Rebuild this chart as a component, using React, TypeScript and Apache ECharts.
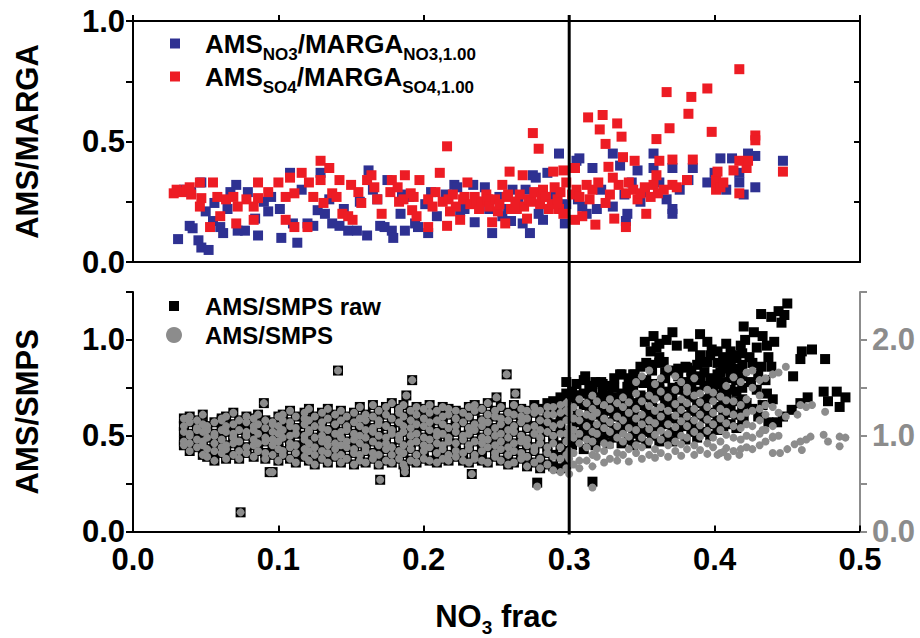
import React, { useEffect, useRef } from 'react';
import * as echarts from 'echarts';

const FONT = '"Liberation Sans", Arial, Helvetica, sans-serif';

const NAME_NO3 = 'AMS_NO3/MARGA_NO3,1.00';
const NAME_SO4 = 'AMS_SO4/MARGA_SO4,1.00';
const NAME_RAW = 'AMS/SMPS raw';
const NAME_CORR = 'AMS/SMPS';

const xTicks = [0.0, 0.1, 0.2, 0.3, 0.4, 0.5];
const dividerX = 0.3;

// Top panel: AMS/MARGA ratios vs NO3 fraction
const topNO3: number[][] = [
  [0.031,0.095],[0.035,0.30],[0.039,0.15],[0.040,0.29],[0.041,0.14],[0.045,0.09],[0.047,0.06],[0.047,0.33],[0.050,0.21],[0.052,0.05],
  [0.055,0.17],[0.056,0.245],[0.060,0.145],[0.062,0.12],[0.065,0.22],[0.067,0.29],[0.071,0.32],[0.072,0.13],[0.077,0.13],[0.079,0.29],
  [0.084,0.18],[0.086,0.11],[0.090,0.25],[0.093,0.21],[0.095,0.27],[0.101,0.22],[0.102,0.10],[0.108,0.37],[0.110,0.16],[0.113,0.08],
  [0.116,0.30],[0.120,0.16],[0.124,0.15],[0.127,0.215],[0.129,0.37],[0.132,0.20],[0.135,0.26],[0.137,0.16],[0.142,0.15],[0.145,0.22],
  [0.148,0.13],[0.154,0.13],[0.156,0.25],[0.161,0.11],[0.162,0.38],[0.165,0.30],[0.168,0.26],[0.170,0.15],[0.173,0.145],[0.175,0.34],
  [0.178,0.13],[0.179,0.10],[0.184,0.20],[0.185,0.28],[0.187,0.13],[0.190,0.27],[0.194,0.16],[0.196,0.145],[0.201,0.24],[0.203,0.12],
  [0.205,0.29],[0.209,0.19],[0.215,0.28],[0.221,0.32],[0.223,0.31],[0.225,0.21],[0.228,0.22],[0.234,0.32],[0.235,0.165],[0.238,0.25],
  [0.242,0.31],[0.245,0.22],[0.247,0.12],[0.252,0.27],[0.254,0.19],[0.258,0.22],[0.260,0.17],[0.261,0.30],[0.265,0.25],[0.268,0.16],
  [0.270,0.30],[0.273,0.12],[0.275,0.36],[0.277,0.35],[0.279,0.20],[0.282,0.175],[0.285,0.37],[0.288,0.27],[0.293,0.45],[0.297,0.16],
  [0.298,0.24],[0.305,0.42],[0.306,0.26],[0.307,0.43],[0.309,0.23],[0.312,0.20],[0.316,0.39],[0.319,0.22],[0.322,0.30],[0.330,0.45],
  [0.330,0.23],[0.335,0.40],[0.338,0.28],[0.339,0.17],[0.340,0.20],[0.343,0.33],[0.347,0.38],[0.349,0.25],[0.352,0.29],[0.358,0.45],
  [0.358,0.39],[0.362,0.33],[0.367,0.26],[0.371,0.39],[0.371,0.22],[0.371,0.20],[0.376,0.30],[0.382,0.34],[0.385,0.39],[0.395,0.33],
  [0.400,0.37],[0.404,0.43],[0.408,0.30],[0.412,0.43],[0.417,0.37],[0.417,0.33],[0.420,0.28],[0.423,0.45],[0.428,0.44],[0.428,0.31],
  [0.447,0.42]
];

const topSO4: number[][] = [
  [0.028,0.285],[0.030,0.30],[0.033,0.29],[0.037,0.30],[0.039,0.31],[0.040,0.28],[0.046,0.33],[0.047,0.265],[0.046,0.23],[0.053,0.145],
  [0.055,0.33],[0.058,0.27],[0.060,0.19],[0.064,0.26],[0.069,0.27],[0.072,0.23],[0.071,0.16],[0.078,0.26],[0.083,0.175],[0.083,0.23],
  [0.086,0.265],[0.086,0.33],[0.093,0.29],[0.100,0.33],[0.105,0.27],[0.105,0.175],[0.108,0.35],[0.111,0.285],[0.111,0.145],[0.116,0.37],
  [0.120,0.145],[0.121,0.33],[0.124,0.27],[0.129,0.42],[0.129,0.34],[0.131,0.245],[0.135,0.39],[0.137,0.285],[0.140,0.27],[0.142,0.34],
  [0.144,0.20],[0.148,0.19],[0.151,0.175],[0.150,0.32],[0.155,0.29],[0.157,0.245],[0.161,0.34],[0.164,0.36],[0.166,0.31],[0.168,0.26],
  [0.171,0.20],[0.177,0.29],[0.178,0.34],[0.182,0.31],[0.183,0.25],[0.186,0.26],[0.187,0.36],[0.191,0.285],[0.192,0.215],[0.193,0.27],
  [0.195,0.19],[0.197,0.34],[0.203,0.26],[0.203,0.145],[0.206,0.23],[0.208,0.29],[0.211,0.37],[0.213,0.25],[0.216,0.48],[0.216,0.15],
  [0.217,0.26],[0.218,0.21],[0.220,0.28],[0.222,0.23],[0.225,0.175],[0.227,0.26],[0.228,0.27],[0.230,0.33],[0.232,0.24],[0.235,0.27],
  [0.236,0.25],[0.238,0.22],[0.240,0.25],[0.243,0.28],[0.244,0.26],[0.245,0.23],[0.247,0.165],[0.249,0.26],[0.251,0.21],[0.252,0.24],
  [0.254,0.32],[0.256,0.16],[0.257,0.27],[0.258,0.28],[0.259,0.375],[0.260,0.22],[0.263,0.25],[0.264,0.22],[0.266,0.28],[0.268,0.36],
  [0.269,0.23],[0.271,0.18],[0.272,0.26],[0.274,0.25],[0.275,0.535],[0.276,0.29],[0.279,0.47],[0.280,0.24],[0.281,0.27],[0.282,0.30],
  [0.284,0.27],[0.286,0.22],[0.288,0.24],[0.289,0.375],[0.290,0.31],[0.292,0.26],[0.293,0.22],[0.294,0.29],[0.296,0.38],[0.296,0.20],
  [0.298,0.33],[0.302,0.28],[0.304,0.39],[0.304,0.175],[0.305,0.30],[0.307,0.27],[0.309,0.19],[0.312,0.32],[0.313,0.60],[0.314,0.26],
  [0.316,0.30],[0.318,0.155],[0.320,0.33],[0.321,0.55],[0.323,0.61],[0.325,0.49],[0.325,0.245],[0.327,0.395],[0.328,0.28],[0.330,0.35],
  [0.331,0.18],[0.333,0.575],[0.334,0.32],[0.336,0.52],[0.337,0.435],[0.339,0.285],[0.339,0.145],[0.341,0.33],[0.344,0.30],[0.345,0.42],
  [0.347,0.26],[0.349,0.285],[0.352,0.31],[0.353,0.20],[0.356,0.27],[0.358,0.32],[0.360,0.51],[0.360,0.36],[0.361,0.285],[0.362,0.42],
  [0.365,0.30],[0.367,0.705],[0.369,0.555],[0.371,0.425],[0.371,0.32],[0.374,0.31],[0.381,0.34],[0.382,0.615],[0.384,0.685],[0.385,0.425],
  [0.395,0.72],[0.398,0.54],[0.401,0.34],[0.401,0.30],[0.402,0.375],[0.404,0.31],[0.406,0.33],[0.413,0.38],[0.417,0.80],[0.417,0.42],
  [0.417,0.285],[0.422,0.39],[0.423,0.42],[0.428,0.525],[0.428,0.505],[0.447,0.375]
];

// Bottom panel, dense band (x < 0.3): NO3 frac of each column of points
const bandX = [0.035,0.039,0.044,0.048,0.051,0.056,0.061,0.064,0.069,0.073,0.078,0.083,0.086,0.091,0.096,0.100,0.103,0.108,0.112,0.118,
  0.121,0.125,0.130,0.134,0.139,0.143,0.147,0.152,0.156,0.160,0.165,0.169,0.174,0.178,0.183,0.186,0.191,0.195,0.200,0.204,
  0.209,0.213,0.217,0.222,0.227,0.231,0.235,0.240,0.244,0.249,0.253,0.258,0.262,0.267,0.271,0.276,0.280,0.285,0.289,0.294,0.298];

// AMS/SMPS raw (left axis) in the band
const bandRaw: number[][] = [
  [0.45,0.47,0.52,0.55,0.59],[0.42,0.46,0.50,0.51,0.57,0.60],[0.44,0.48,0.53,0.54,0.58],[0.40,0.45,0.47,0.52,0.56,0.61],
  [0.39,0.43,0.49,0.53,0.55],[0.37,0.42,0.46,0.50,0.51,0.57],[0.41,0.44,0.48,0.53,0.58,0.59],[0.38,0.43,0.45,0.52,0.55,0.60],
  [0.40,0.46,0.49,0.51,0.56,0.62],[0.38,0.42,0.47,0.53,0.58],[0.41,0.44,0.50,0.52,0.57,0.60],[0.39,0.45,0.48,0.53,0.55,0.59],
  [0.42,0.46,0.51,0.56,0.61],[0.38,0.41,0.47,0.49,0.54,0.58],[0.40,0.45,0.48,0.52,0.56,0.57],[0.37,0.43,0.47,0.51,0.55,0.60],
  [0.40,0.42,0.49,0.53,0.58,0.61],[0.38,0.44,0.46,0.50,0.55,0.57,0.63],[0.36,0.41,0.45,0.51,0.54,0.60],[0.39,0.43,0.48,0.50,0.56,0.59,0.62],
  [0.37,0.42,0.46,0.52,0.53,0.58,0.64],[0.35,0.40,0.44,0.49,0.55,0.60],[0.38,0.42,0.47,0.50,0.54,0.57,0.62],[0.36,0.41,0.45,0.48,0.53,0.59,0.64],
  [0.39,0.43,0.46,0.51,0.56,0.61],[0.36,0.40,0.45,0.49,0.52,0.58,0.63],[0.38,0.44,0.47,0.53,0.55,0.60],[0.35,0.41,0.43,0.48,0.51,0.57,0.62],
  [0.37,0.40,0.46,0.50,0.55,0.59,0.65],[0.36,0.42,0.44,0.49,0.53,0.58,0.61],[0.38,0.41,0.47,0.52,0.54,0.60,0.66],[0.35,0.40,0.45,0.50,0.56,0.58,0.63],
  [0.37,0.43,0.46,0.49,0.55,0.61,0.65],[0.36,0.40,0.44,0.51,0.53,0.59,0.67],[0.38,0.42,0.48,0.50,0.57,0.62,0.64],[0.35,0.41,0.45,0.52,0.55,0.60,0.66],
  [0.37,0.43,0.46,0.50,0.54,0.58,0.63],[0.36,0.40,0.47,0.51,0.56,0.61,0.65],[0.38,0.42,0.45,0.49,0.55,0.59,0.64],[0.37,0.44,0.48,0.53,0.57,0.62,0.66],
  [0.36,0.41,0.46,0.50,0.52,0.58,0.63],[0.38,0.43,0.45,0.51,0.56,0.60,0.65],[0.37,0.40,0.47,0.49,0.54,0.61,0.64],[0.39,0.42,0.46,0.52,0.55,0.59,0.63],
  [0.37,0.41,0.48,0.50,0.57,0.62],[0.36,0.43,0.45,0.51,0.54,0.60,0.65],[0.38,0.40,0.47,0.53,0.56,0.63,0.66],[0.37,0.42,0.46,0.49,0.55,0.58,0.64],
  [0.36,0.44,0.48,0.52,0.57,0.61,0.67],[0.39,0.41,0.45,0.50,0.54,0.60,0.63],[0.37,0.43,0.47,0.51,0.56,0.59,0.65],[0.35,0.40,0.44,0.49,0.53,0.58,0.62],
  [0.36,0.42,0.46,0.52,0.55,0.61,0.66],[0.38,0.41,0.47,0.50,0.57,0.60,0.64],[0.34,0.39,0.45,0.48,0.54,0.59,0.63],[0.36,0.42,0.44,0.51,0.55,0.62,0.66],
  [0.33,0.38,0.46,0.49,0.53,0.58,0.64],[0.35,0.41,0.44,0.52,0.57,0.61,0.67],[0.34,0.40,0.47,0.50,0.56,0.63,0.68],[0.33,0.39,0.45,0.53,0.58,0.64,0.70],
  [0.35,0.42,0.48,0.51,0.59,0.66,0.72]
];

// AMS/SMPS (right axis) in the band
const bandCorr: number[][] = [
  [0.90,0.94,1.04,1.10,1.18],[0.84,0.92,1.00,1.02,1.14,1.20],[0.88,0.96,1.06,1.08,1.16],[0.80,0.90,0.94,1.04,1.12,1.22],
  [0.78,0.86,0.98,1.06,1.10],[0.74,0.84,0.92,1.00,1.02,1.14],[0.82,0.88,0.96,1.06,1.16,1.18],[0.76,0.86,0.90,1.04,1.10,1.20],
  [0.80,0.92,0.98,1.02,1.12,1.24],[0.76,0.84,0.94,1.06,1.16],[0.82,0.88,1.00,1.04,1.14,1.20],[0.78,0.90,0.96,1.06,1.10,1.18],
  [0.84,0.92,1.02,1.12,1.22],[0.76,0.82,0.94,0.98,1.08,1.16],[0.80,0.90,0.96,1.04,1.12,1.14],[0.74,0.86,0.94,1.02,1.10,1.20],
  [0.80,0.84,0.98,1.06,1.16,1.22],[0.76,0.88,0.92,1.00,1.10,1.14,1.26],[0.72,0.82,0.90,1.02,1.08,1.20],[0.78,0.86,0.96,1.00,1.12,1.18,1.24],
  [0.74,0.84,0.92,1.04,1.06,1.16,1.28],[0.70,0.80,0.88,0.98,1.10,1.20],[0.76,0.84,0.94,1.00,1.08,1.14,1.24],[0.72,0.82,0.90,0.96,1.06,1.18,1.28],
  [0.78,0.86,0.92,1.02,1.12,1.22],[0.72,0.80,0.90,0.98,1.04,1.16,1.26],[0.76,0.88,0.94,1.06,1.10,1.20],[0.70,0.82,0.86,0.96,1.02,1.14,1.24],
  [0.74,0.80,0.92,1.00,1.10,1.18,1.30],[0.72,0.84,0.88,0.98,1.06,1.16,1.22],[0.76,0.82,0.94,1.04,1.08,1.20,1.32],[0.70,0.80,0.90,1.00,1.12,1.16,1.26],
  [0.74,0.86,0.92,0.98,1.10,1.22,1.30],[0.72,0.80,0.88,1.02,1.06,1.18,1.34],[0.76,0.84,0.96,1.00,1.14,1.24,1.28],[0.70,0.82,0.90,1.04,1.10,1.20,1.32],
  [0.74,0.86,0.92,1.00,1.08,1.16,1.26],[0.72,0.80,0.94,1.02,1.12,1.22,1.30],[0.76,0.84,0.90,0.98,1.10,1.18,1.28],[0.74,0.88,0.96,1.06,1.14,1.24,1.32],
  [0.72,0.82,0.92,1.00,1.04,1.16,1.26],[0.76,0.86,0.90,1.02,1.12,1.20,1.30],[0.74,0.80,0.94,0.98,1.08,1.22,1.28],[0.78,0.84,0.92,1.04,1.10,1.18,1.26],
  [0.74,0.82,0.96,1.00,1.14,1.24],[0.72,0.86,0.90,1.02,1.08,1.20,1.30],[0.76,0.80,0.94,1.06,1.12,1.26,1.32],[0.74,0.84,0.92,0.98,1.10,1.16,1.28],
  [0.72,0.88,0.96,1.04,1.14,1.22,1.34],[0.78,0.82,0.90,1.00,1.08,1.20,1.26],[0.74,0.86,0.94,1.02,1.12,1.18,1.30],[0.70,0.80,0.88,0.98,1.06,1.16,1.24],
  [0.72,0.84,0.92,1.04,1.10,1.22,1.32],[0.76,0.82,0.94,1.00,1.14,1.20,1.28],[0.68,0.78,0.90,0.96,1.08,1.18,1.26],[0.72,0.84,0.88,1.02,1.10,1.24,1.30],
  [0.66,0.76,0.92,0.98,1.06,1.16,1.26],[0.70,0.82,0.88,1.04,1.14,1.22,1.30],[0.64,0.78,0.92,1.00,1.10,1.22,1.30],[0.62,0.76,0.88,1.02,1.12,1.24,1.32],
  [0.66,0.80,0.94,1.02,1.16,1.26,1.34]
];

// High NO3 frac (x > 0.3), raw: columns of the lower dense cloud
const rawHiX = [0.302,0.305,0.310,0.314,0.318,0.323,0.327,0.331,0.336,0.341,0.344,0.349,0.353,0.357,0.362,0.366,0.371,0.375,
  0.380,0.384,0.388,0.393,0.397,0.402,0.406,0.411,0.415,0.419];
const rawHiCols: number[][] = [
  [0.45,0.50,0.53,0.60,0.64,0.70,0.73],[0.48,0.51,0.57,0.61,0.68,0.71,0.77],[0.43,0.50,0.55,0.58,0.66,0.72,0.79],
  [0.47,0.52,0.56,0.63,0.67,0.74,0.76],[0.45,0.49,0.55,0.61,0.64,0.70,0.78],[0.48,0.53,0.58,0.62,0.69,0.73,0.77],
  [0.46,0.51,0.57,0.63,0.66,0.71,0.76],[0.49,0.54,0.60,0.64,0.70,0.75,0.80],[0.46,0.52,0.56,0.62,0.68,0.72,0.82],
  [0.48,0.55,0.59,0.65,0.71,0.77,0.80],[0.45,0.51,0.57,0.61,0.67,0.74,0.82],[0.49,0.53,0.60,0.66,0.71,0.78,0.86],
  [0.46,0.52,0.58,0.63,0.70,0.79,0.88],[0.50,0.55,0.61,0.68,0.73,0.77,0.84],[0.47,0.54,0.59,0.64,0.71,0.76,0.88],
  [0.49,0.56,0.60,0.67,0.73,0.80,0.83],[0.47,0.52,0.59,0.65,0.70,0.75,0.84],[0.51,0.56,0.62,0.67,0.74,0.81,0.85],
  [0.48,0.55,0.60,0.66,0.72,0.78,0.86],[0.52,0.57,0.63,0.70,0.75,0.80,0.84],[0.49,0.54,0.61,0.67,0.73,0.79,0.87],
  [0.52,0.59,0.64,0.69,0.76,0.83,0.88],[0.50,0.56,0.62,0.69,0.74,0.80,0.92],[0.53,0.58,0.65,0.71,0.77,0.82,0.88],
  [0.55,0.60,0.66,0.73,0.78,0.85,0.90],[0.56,0.62,0.67,0.74,0.80,0.86,0.90],[0.54,0.61,0.68,0.73,0.79,0.85,0.92],
  [0.57,0.63,0.69,0.75,0.81,0.87,0.93]
];

// Raw: outliers, upper cluster, and right-hand tail
const rawExtra: number[][] = [
  [0.074,0.10],[0.090,0.67],[0.141,0.84],[0.192,0.79],[0.188,0.71],[0.170,0.27],[0.094,0.31],[0.096,0.31],[0.187,0.31],[0.187,0.33],
  [0.257,0.82],[0.263,0.72],[0.250,0.70],[0.233,0.30],[0.278,0.255],[0.298,0.78],[0.316,0.26],
  [0.311,0.81],[0.322,0.78],[0.335,0.82],[0.345,0.82],[0.340,0.755],[0.330,0.755],[0.316,0.74],[0.305,0.71],[0.351,0.775],
  [0.362,0.74],[0.376,0.755],[0.390,0.81],[0.399,0.755],[0.408,0.70],
  [0.352,0.99],[0.358,1.02],[0.362,0.98],[0.371,1.04],[0.367,1.00],[0.356,0.94],[0.362,0.91],[0.356,0.87],[0.365,0.885],[0.360,0.96],
  [0.374,0.97],[0.382,0.98],[0.385,0.965],[0.390,1.03],[0.395,0.99],[0.402,0.94],[0.395,0.885],[0.406,0.91],[0.404,0.83],[0.381,0.855],
  [0.374,0.83],[0.390,0.92],[0.398,0.95],[0.408,0.98],[0.411,0.94],[0.414,0.905],[0.406,0.88],[0.411,0.84],[0.417,0.84],[0.415,0.79],
  [0.420,1.07],[0.427,1.04],[0.433,1.02],[0.429,0.96],[0.424,0.91],[0.437,0.91],[0.439,0.86],[0.432,1.135],[0.439,1.12],[0.446,1.09],
  [0.448,1.13],[0.450,1.19],[0.444,1.15],[0.421,1.00],[0.418,0.97],[0.436,0.97],[0.441,0.99],[0.426,0.88],[0.432,0.86],[0.460,0.94],
  [0.467,0.95],[0.459,0.90],[0.476,0.90],[0.454,0.81],
  [0.475,0.73],[0.478,0.68],[0.486,0.65],[0.490,0.70],[0.484,0.73],[0.464,0.70],[0.459,0.67],[0.453,0.635],[0.447,0.60],[0.443,0.57],
  [0.437,0.57],[0.440,0.69],[0.436,0.72],[0.429,0.74],[0.422,0.67],[0.420,0.60],[0.430,0.60],[0.426,0.64],[0.433,0.66],[0.425,0.78],
  [0.430,0.82],[0.435,0.79]
];

// High NO3 frac, corrected (right axis): columns of the grey cloud
const corrHiX = [0.300,0.303,0.307,0.312,0.316,0.319,0.324,0.328,0.333,0.337,0.341,0.346,0.350,0.355,0.359,0.363,0.368,0.373,
  0.377,0.381,0.386,0.390,0.395,0.399,0.404,0.408,0.413,0.418,0.422,0.426,0.431,0.435,0.440,0.444,0.449];
const corrHiCols: number[][] = [
  [0.60,0.76,0.84,1.00,1.08,1.24],[0.70,0.82,0.98,1.06,1.18,1.30],[0.66,0.74,0.92,1.02,1.16,1.24,1.38],
  [0.74,0.88,0.96,1.10,1.22,1.34],[0.68,0.80,0.94,1.04,1.20,1.28,1.42],[0.78,0.86,1.02,1.12,1.24,1.36],
  [0.72,0.84,0.92,1.08,1.18,1.32],[0.76,0.90,1.04,1.14,1.28,1.38],[0.74,0.82,0.98,1.10,1.20,1.34],
  [0.80,0.94,1.02,1.16,1.30,1.40],[0.73,0.86,0.99,1.08,1.24,1.35],[0.82,0.90,1.06,1.18,1.28,1.44,1.56],
  [0.76,0.88,0.98,1.12,1.22,1.36,1.62],[0.80,0.94,1.07,1.16,1.31,1.42,1.68],[0.77,0.86,1.01,1.13,1.26,1.38,1.54],
  [0.82,0.96,1.05,1.20,1.30,1.46,1.60],[0.78,0.90,1.02,1.12,1.26,1.40,1.70],[0.84,0.94,1.09,1.21,1.33,1.48,1.62],
  [0.79,0.91,1.00,1.15,1.27,1.38,1.56],[0.86,0.98,1.10,1.20,1.34,1.46,1.50],[0.80,0.90,1.04,1.16,1.28,1.42,1.60],
  [0.85,0.99,1.11,1.22,1.35,1.44],[0.81,0.92,1.05,1.17,1.30,1.48],[0.88,0.98,1.12,1.24,1.36,1.45],
  [0.82,0.94,1.06,1.18,1.28,1.41],[0.87,1.01,1.13,1.25,1.37,1.52],[0.84,0.98,1.10,1.22,1.36,1.61],
  [0.86,0.96,1.08,1.20,1.32,1.56],[0.88,1.00,1.12,1.24,1.38,1.66],[0.86,0.98,1.10,1.26,1.50,1.68],
  [0.90,1.02,1.16,1.28,1.42,1.58],[0.94,1.06,1.22,1.32,1.60],[0.98,1.10,1.30,1.64],[1.00,1.24,1.66],[1.20,1.72]
];

// Corrected: outliers and right-hand tail
const corrExtra: number[][] = [
  [0.074,0.20],[0.090,1.34],[0.141,1.68],[0.192,1.58],[0.188,1.42],[0.170,0.54],[0.094,0.62],[0.096,0.62],[0.187,0.62],[0.187,0.66],
  [0.257,1.64],[0.263,1.44],[0.250,1.40],[0.233,0.60],[0.278,0.47],[0.316,0.46],
  [0.440,0.82],[0.445,0.82],[0.450,0.86],[0.455,0.91],[0.459,0.94],[0.460,0.85],[0.463,0.96],[0.466,0.99],[0.475,1.01],[0.478,0.94],
  [0.486,0.99],[0.490,0.98],[0.486,0.89],[0.476,1.25],[0.467,1.32],[0.463,1.30],[0.459,1.32],[0.457,1.22],[0.417,0.80],[0.409,0.78],
  [0.406,0.83],[0.402,0.80],[0.440,0.99],[0.433,1.06]
];

const cols = (xs: number[], ys: number[][]) => xs.flatMap((x, i) => ys[i].map((y) => [x, y]));

const lbl = (step: number) => (v: number) =>
  Math.abs(v / step - Math.round(v / step)) < 1e-6 ? v.toFixed(1) : '';

const BLACK = '#000';
const GREY = '#8c8c8c';

const axisLine = (color = BLACK) => ({ show: true, onZero: false, lineStyle: { color, width: 2 } });

const option: any = {
  animation: false,
  backgroundColor: '#fff',
  textStyle: { fontFamily: FONT },
  grid: [
    { left: 133, right: 60, top: 21, height: 241 },
    { left: 133, right: 60, top: 292, height: 240 },
  ],
  xAxis: [
    {
      type: 'value', gridIndex: 0, position: 'bottom', min: xTicks[0], max: xTicks[xTicks.length - 1], interval: 0.1,
      axisLine: axisLine(), axisTick: { show: false }, axisLabel: { show: false }, splitLine: { show: false },
    },
    {
      type: 'value', gridIndex: 0, position: 'top', min: xTicks[0], max: xTicks[xTicks.length - 1], interval: 0.1,
      axisLine: axisLine(), axisTick: { show: true, length: 6, lineStyle: { color: BLACK, width: 2 } },
      axisLabel: { show: false }, splitLine: { show: false },
    },
    {
      type: 'value', gridIndex: 1, position: 'bottom', min: xTicks[0], max: xTicks[xTicks.length - 1], interval: 0.1,
      axisLine: axisLine(), axisTick: { show: true, inside: true, length: 6, lineStyle: { color: BLACK, width: 2 } },
      axisLabel: { show: true, fontFamily: FONT, fontWeight: 'bold', fontSize: 31, color: BLACK, margin: 12, formatter: lbl(0.1) },
      splitLine: { show: false },
      name: '{a|NO}{b|3}{a| frac}', nameLocation: 'middle', nameGap: 68,
      nameTextStyle: {
        fontFamily: FONT, fontWeight: 'bold', fontSize: 31, color: BLACK,
        rich: {
          a: { fontFamily: FONT, fontWeight: 'bold', fontSize: 31, lineHeight: 34, color: BLACK },
          b: { fontFamily: FONT, fontWeight: 'bold', fontSize: 19, lineHeight: 10, padding: [22, 0, 0, 0], color: BLACK },
        },
      },
    },
  ],
  yAxis: [
    {
      type: 'value', gridIndex: 0, position: 'left', min: 0, max: 1, interval: 0.25,
      axisLine: axisLine(), axisTick: { show: true, length: 7, lineStyle: { color: BLACK, width: 2 } },
      axisLabel: { fontFamily: FONT, fontWeight: 'bold', fontSize: 31, color: BLACK, margin: 8, formatter: lbl(0.5) },
      splitLine: { show: false },
      name: 'AMS/MARGA', nameLocation: 'middle', nameGap: 90,
      nameTextStyle: { fontFamily: FONT, fontWeight: 'bold', fontSize: 31, color: BLACK },
    },
    {
      type: 'value', gridIndex: 0, position: 'right', min: 0, max: 1, interval: 0.25,
      axisLine: axisLine(), axisTick: { show: true, inside: true, length: 6, lineStyle: { color: BLACK, width: 2 } },
      axisLabel: { show: false }, splitLine: { show: false },
    },
    {
      type: 'value', gridIndex: 1, position: 'left', min: 0, max: 1.25, interval: 0.25,
      axisLine: axisLine(), axisTick: { show: true, length: 7, lineStyle: { color: BLACK, width: 2 } },
      axisLabel: { fontFamily: FONT, fontWeight: 'bold', fontSize: 31, color: BLACK, margin: 8, formatter: lbl(0.5) },
      splitLine: { show: false },
      name: 'AMS/SMPS', nameLocation: 'middle', nameGap: 90,
      nameTextStyle: { fontFamily: FONT, fontWeight: 'bold', fontSize: 31, color: BLACK },
    },
    {
      type: 'value', gridIndex: 1, position: 'right', min: 0, max: 2.5, interval: 0.5,
      axisLine: axisLine(GREY), axisTick: { show: true, length: 7, lineStyle: { color: GREY, width: 2 } },
      axisLabel: { fontFamily: FONT, fontWeight: 'bold', fontSize: 31, color: GREY, margin: 12, formatter: lbl(1) },
      splitLine: { show: false },
    },
  ],
  legend: [
    {
      orient: 'vertical', left: 165, top: 19, itemWidth: 10, itemHeight: 10, itemGap: -6, icon: 'rect',
      selectedMode: false,
      data: [NAME_NO3, NAME_SO4],
      formatter: (n: string) =>
        n === NAME_NO3 ? '{m|AMS}{s|NO3}{m|/MARGA}{s|NO3,1.00}' : '{m|AMS}{s|SO4}{m|/MARGA}{s|SO4,1.00}',
      textStyle: {
        fontFamily: FONT, fontWeight: 'bold', fontSize: 26, color: BLACK, padding: [0, 0, 0, 20],
        rich: {
          m: { fontFamily: FONT, fontWeight: 'bold', fontSize: 26, lineHeight: 28, color: BLACK },
          s: { fontFamily: FONT, fontWeight: 'bold', fontSize: 17, lineHeight: 10, padding: [22, 0, 0, 0], color: BLACK },
        },
      },
    },
    {
      orient: 'vertical', left: 161, top: 289, itemWidth: 16, itemHeight: 16, itemGap: 5,
      selectedMode: false,
      data: [
        { name: NAME_RAW, icon: 'path://M0,0M16,16M3,3h10v10h-10z' },
        { name: NAME_CORR, icon: 'circle' },
      ],
      textStyle: { fontFamily: FONT, fontWeight: 'bold', fontSize: 24, color: BLACK, padding: [0, 0, 0, 18] },
    },
  ],
  series: [
    {
      name: NAME_NO3, type: 'scatter', xAxisIndex: 0, yAxisIndex: 0, symbol: 'rect', symbolSize: 10,
      itemStyle: { color: '#2e3192', opacity: 1 }, data: topNO3, emphasis: { disabled: true },
    },
    {
      name: NAME_SO4, type: 'scatter', xAxisIndex: 0, yAxisIndex: 0, symbol: 'rect', symbolSize: 10,
      itemStyle: { color: '#ed1c24', opacity: 1 }, data: topSO4, emphasis: { disabled: true },
    },
    {
      name: NAME_RAW, type: 'scatter', xAxisIndex: 2, yAxisIndex: 2, symbol: 'rect', symbolSize: 10,
      itemStyle: { color: BLACK, opacity: 1 },
      data: [...cols(bandX, bandRaw), ...cols(rawHiX, rawHiCols), ...rawExtra], emphasis: { disabled: true },
    },
    {
      name: NAME_CORR, type: 'scatter', xAxisIndex: 2, yAxisIndex: 3, symbol: 'circle', symbolSize: 8,
      itemStyle: { color: GREY, opacity: 1 },
      data: [...cols(bandX, bandCorr), ...cols(corrHiX, corrHiCols), ...corrExtra], emphasis: { disabled: true },
    },
  ],
};

export default function App() {
  const ref = useRef<HTMLDivElement>(null);
  useEffect(() => {
    document.body.style.margin = '0';
    const chart = echarts.init(ref.current!, null, { renderer: 'svg' });
    chart.setOption(option);
    const x = chart.convertToPixel({ xAxisIndex: 2 }, dividerX) as number;
    const yTop = chart.convertToPixel({ yAxisIndex: 0 }, 1) as number;
    const yBot = chart.convertToPixel({ yAxisIndex: 2 }, 0) as number;
    chart.setOption({
      graphic: [
        {
          type: 'line', z: 100, silent: true,
          shape: { x1: x, y1: yTop - 6, x2: x, y2: yBot + 3 },
          style: { stroke: BLACK, lineWidth: 3 },
        },
      ],
    });
    return () => chart.dispose();
  }, []);
  return <div ref={ref} style={{ width: 920, height: 638 }} />;
}
